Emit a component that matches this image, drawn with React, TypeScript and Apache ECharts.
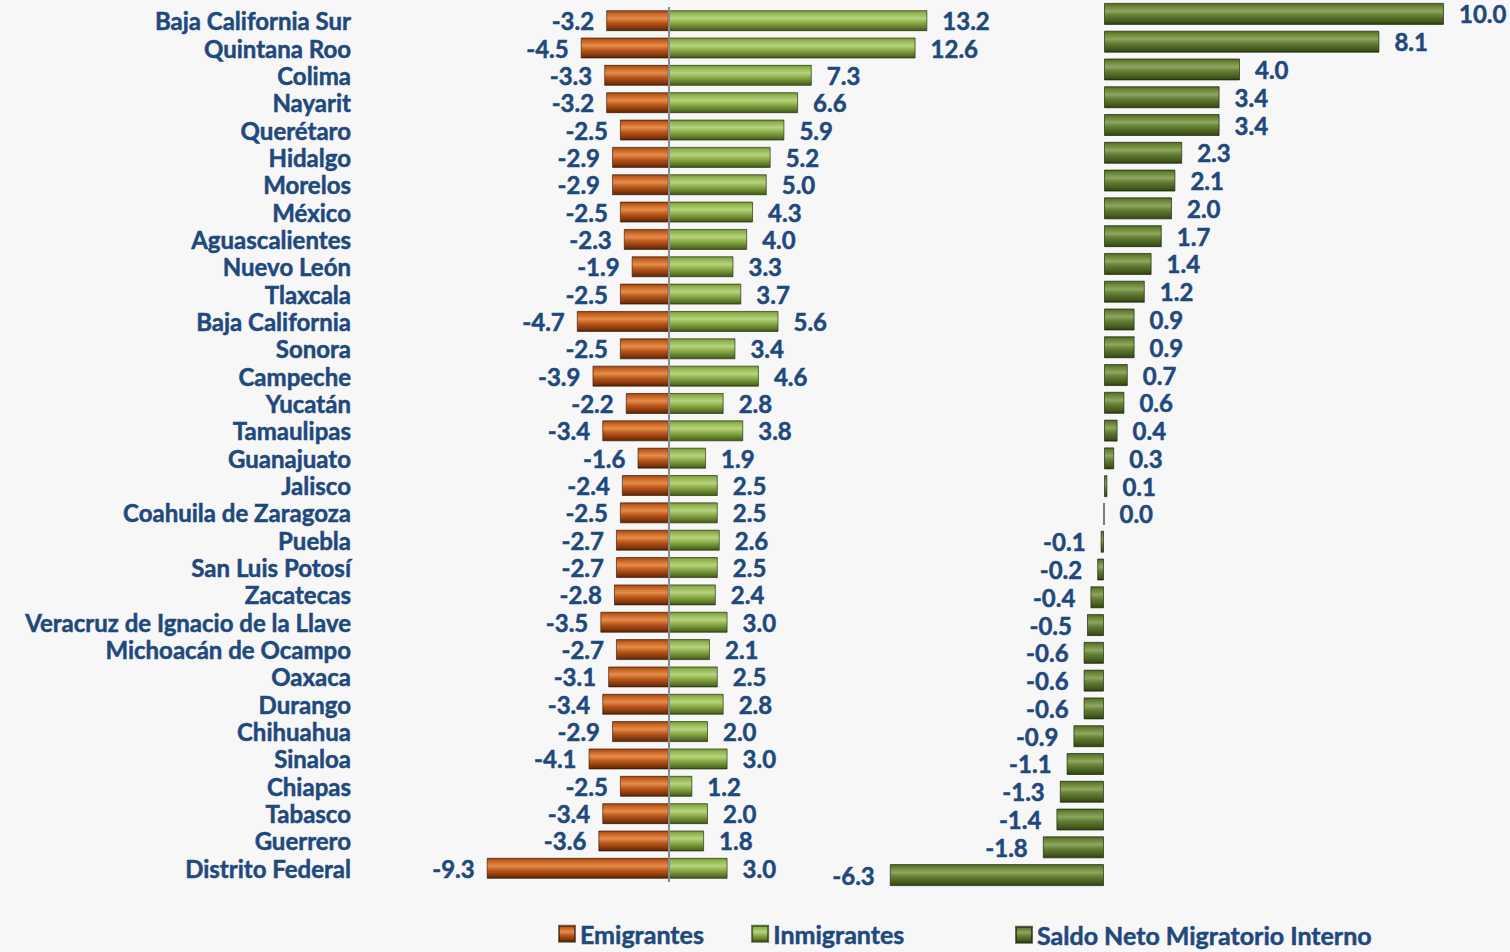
import React, { useEffect, useRef } from "react";
import * as echarts from "echarts";

const states = [
  "Baja California Sur", "Quintana Roo", "Colima", "Nayarit", "Querétaro", "Hidalgo",
  "Morelos", "México", "Aguascalientes", "Nuevo León", "Tlaxcala", "Baja California",
  "Sonora", "Campeche", "Yucatán", "Tamaulipas", "Guanajuato", "Jalisco",
  "Coahuila de Zaragoza", "Puebla", "San Luis Potosí", "Zacatecas",
  "Veracruz de Ignacio de la Llave", "Michoacán de Ocampo", "Oaxaca", "Durango",
  "Chihuahua", "Sinaloa", "Chiapas", "Tabasco", "Guerrero", "Distrito Federal",
];

const emigrantes = [
  -3.2, -4.5, -3.3, -3.2, -2.5, -2.9, -2.9, -2.5, -2.3, -1.9, -2.5, -4.7, -2.5, -3.9, -2.2, -3.4,
  -1.6, -2.4, -2.5, -2.7, -2.7, -2.8, -3.5, -2.7, -3.1, -3.4, -2.9, -4.1, -2.5, -3.4, -3.6, -9.3,
];

const inmigrantes = [
  13.2, 12.6, 7.3, 6.6, 5.9, 5.2, 5.0, 4.3, 4.0, 3.3, 3.7, 5.6, 3.4, 4.6, 2.8, 3.8,
  1.9, 2.5, 2.5, 2.6, 2.5, 2.4, 3.0, 2.1, 2.5, 2.8, 2.0, 3.0, 1.2, 2.0, 1.8, 3.0,
];

const saldoNeto = [
  10.0, 8.1, 4.0, 3.4, 3.4, 2.3, 2.1, 2.0, 1.7, 1.4, 1.2, 0.9, 0.9, 0.7, 0.6, 0.4,
  0.3, 0.1, 0.0, -0.1, -0.2, -0.4, -0.5, -0.6, -0.6, -0.6, -0.9, -1.1, -1.3, -1.4, -1.8, -6.3,
];

const seriesNames = ["Emigrantes", "Inmigrantes", "Saldo Neto Migratorio Interno"];

const TEXT = "#1F497D";
const FONT = "Lato";

function grad(stops: [number, string][]) {
  return new echarts.graphic.LinearGradient(
    0, 0, 0, 1,
    stops.map(([offset, color]) => ({ offset, color }))
  );
}

const emigColor = grad([
  [0, "#9A400C"], [0.1, "#C05A1A"], [0.38, "#E58D4C"], [0.5, "#D0702E"], [0.62, "#B8541A"], [0.88, "#7E350A"], [1, "#552405"],
]);
const inmigColor = grad([
  [0, "#738F38"], [0.1, "#8CAF49"], [0.38, "#B6D47F"], [0.5, "#9FBF5F"], [0.62, "#88A946"], [0.88, "#5A7427"], [1, "#3F5419"],
]);
const netColor = grad([
  [0, "#4C6524"], [0.1, "#637E31"], [0.38, "#8FA75E"], [0.5, "#728C43"], [0.62, "#5E7830"], [0.88, "#42581B"], [1, "#2E3C11"],
]);

const boldText = {
  color: TEXT,
  fontFamily: FONT,
  fontWeight: "bold" as const,
  textBorderColor: TEXT,
  textBorderWidth: 0.5,
};

const labelBase = {
  show: true,
  ...boldText,
  fontSize: 24,
  lineHeight: 22,
  distance: 12,
  formatter: (p: any) => Number(p.value).toFixed(1),
};

export default function App() {
  const ref = useRef<HTMLDivElement>(null);

  useEffect(() => {
    if (!ref.current) return;
    const chart = echarts.init(ref.current, undefined, { renderer: "svg" });

    const option: any = {
      animation: false,
      backgroundColor: "#F7F7F7",
      textStyle: { fontFamily: FONT },
      legend: [
        {
          data: [seriesNames[0], seriesNames[1]],
          left: 558, top: 921, padding: 0,
          icon: "rect", itemWidth: 16, itemHeight: 16, itemGap: 47,
          textStyle: { ...boldText, fontSize: 25, lineHeight: 22, padding: 0 },
        },
        {
          data: [seriesNames[2]],
          left: 1015, top: 922, padding: 0,
          icon: "rect", itemWidth: 16, itemHeight: 16,
          textStyle: { ...boldText, fontSize: 25, lineHeight: 22, padding: 0 },
        },
      ],
      grid: [
        { left: 473, top: 7, width: 470, height: 875 },
        { left: 866, top: -1, width: 595, height: 890 },
      ],
      xAxis: [
        { gridIndex: 0, type: "value", min: -10, max: 14, show: false, splitLine: { show: false } },
        { gridIndex: 1, type: "value", min: -7, max: 10.5, show: false, splitLine: { show: false } },
      ],
      yAxis: [
        {
          gridIndex: 0, type: "category", inverse: true, data: states,
          axisLine: { show: false }, axisTick: { show: false },
          axisLabel: { interval: 0, margin: 122, ...boldText, fontSize: 24, lineHeight: 22 },
        },
        {
          gridIndex: 1, type: "category", inverse: true, data: states, show: false,
        },
      ],
      series: [
        {
          name: seriesNames[0], type: "bar", xAxisIndex: 0, yAxisIndex: 0,
          barWidth: 21, barGap: "-100%",
          itemStyle: { color: emigColor, borderColor: "rgba(40,15,0,0.6)", borderWidth: 1 },
          data: emigrantes.map((v) => ({ value: v, label: { ...labelBase, position: "left" } })),
          markLine: {
            silent: true, symbol: ["none", "none"], label: { show: false },
            lineStyle: { color: "#8A8A8A", width: 2, type: "solid" },
            data: [{ xAxis: 0 }],
          },
          z: 3,
        },
        {
          name: seriesNames[1], type: "bar", xAxisIndex: 0, yAxisIndex: 0,
          barWidth: 21, barGap: "-100%",
          itemStyle: { color: inmigColor, borderColor: "rgba(30,45,5,0.65)", borderWidth: 1 },
          data: inmigrantes.map((v) => ({ value: v, label: { ...labelBase, distance: 15, position: "right" } })),
          z: 3,
        },
        {
          name: seriesNames[2], type: "bar", xAxisIndex: 1, yAxisIndex: 1,
          barWidth: 22,
          itemStyle: { color: netColor, borderColor: "rgba(20,30,5,0.65)", borderWidth: 1 },
          data: saldoNeto.map((v) => ({
            value: v,
            label: { ...labelBase, distance: 15, position: v < 0 ? "left" : "right" },
          })),
          z: 3,
        },
      ],
    };

    chart.setOption(option);
    return () => chart.dispose();
  }, []);

  return (
    <div
      ref={ref}
      style={{ position: "fixed", left: 0, top: 0, width: 1510, height: 952 }}
    />
  );
}
